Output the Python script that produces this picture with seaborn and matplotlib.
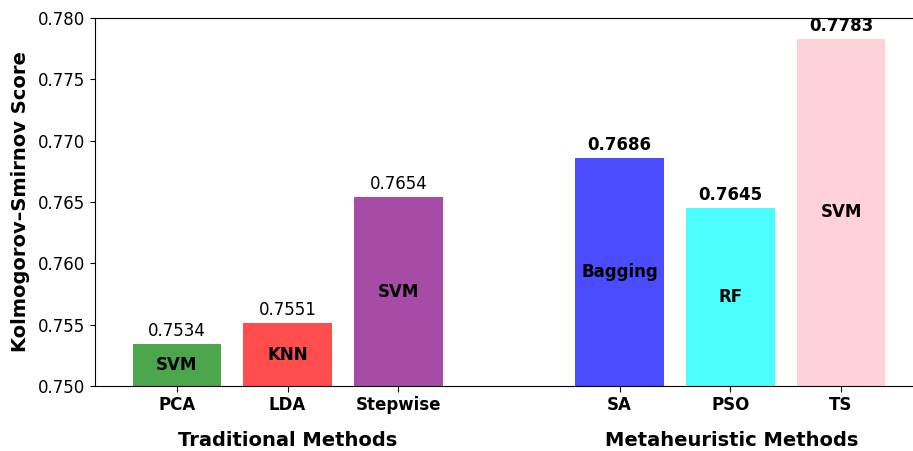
import pandas as pd
import seaborn as sns
import matplotlib.pyplot as plt

# values
methods = ["PCA", "LDA", "Stepwise", "SA", "PSO", "TS"]
scores = [0.7534, 0.7551, 0.7654, 0.7686, 0.7645, 0.7783]
classifiers = ["SVM", "KNN", "SVM", "Bagging", "RF", "SVM"]
groups = ["Traditional", "Traditional", "Traditional",
          "Metaheuristic", "Metaheuristic", "Metaheuristic"]
colors = ["green", "red", "purple", "blue", "cyan", "pink"]
order = ["PCA", "LDA", "Stepwise", " ", "SA", "PSO", "TS"]
base = 0.75

df = pd.DataFrame({"method": methods, "score": scores,
                   "clf": classifiers, "group": groups})
df["height"] = df["score"] - base

sns.set_style("ticks", rc={"text.color": "black", "axes.labelcolor": "black",
                           "xtick.color": "black", "ytick.color": "black",
                           "axes.edgecolor": "black"})
plt.rcParams["font.family"] = ["DejaVu Sans"]

fig = plt.figure(figsize=(9.13, 4.51), dpi=100)
ax = fig.add_axes([0.104, 0.144, 0.896, 0.816])

sns.barplot(data=df, x="method", y="height", hue="method", order=order,
            palette=dict(zip(methods, colors)), alpha=0.7, width=0.8,
            saturation=1, linewidth=0, bottom=base, legend=False, ax=ax)

ax.set_ylim(0.750, 0.780)
ax.set_xlim(-0.74, 6.65)
ax.set_yticks([0.750, 0.755, 0.760, 0.765, 0.770, 0.775, 0.780])
ax.set_yticklabels([f"{t:.3f}" for t in ax.get_yticks()], fontsize=12)
ticks = [order.index(m) for m in methods]
ax.set_xticks(ticks)
ax.set_xticklabels(methods, fontsize=12, fontweight="bold")
ax.tick_params(axis="x", length=4)
ax.set_xlabel("")
ax.set_ylabel("Kolmogorov–Smirnov Score", fontsize=14, fontweight="bold")
ax.yaxis.set_label_coords(-0.08, 0.5)
ax.spines["right"].set_visible(False)

# score on top, classifier name in the middle of each bar
for _, row in df.iterrows():
    x = order.index(row["method"])
    weight = "bold" if row["group"] == "Metaheuristic" else "normal"
    ax.annotate(f"{row['score']:.4f}", (x, row["score"]), xytext=(0, 3),
                textcoords="offset points", ha="center", va="bottom",
                fontsize=12, fontweight=weight)
    ax.text(x, (row["score"] + base) / 2, row["clf"], ha="center",
            va="center", fontsize=12, fontweight="bold")

fig.text(288 / 913, 0.024, "Traditional Methods", ha="center", va="center",
         fontsize=14, fontweight="bold")
fig.text(732 / 913, 0.024, "Metaheuristic Methods", ha="center", va="center",
         fontsize=14, fontweight="bold")

fig.savefig("out.png", dpi=100)
